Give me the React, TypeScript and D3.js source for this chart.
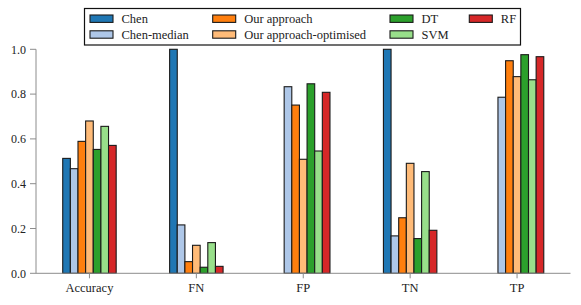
import React, { useRef, useEffect } from "react";
import { select, scaleLinear, range } from "d3";

const categories = ["Accuracy", "FN", "FP", "TN", "TP"];
const seriesNames = ["Chen", "Chen-median", "Our approach", "Our approach-optimised", "DT", "SVM", "RF"];
const colors = ["#1f77b4", "#aec7e8", "#ff7f0e", "#ffbb78", "#2ca02c", "#98df8a", "#d62728"];

// one array per series, in category order
const chen = [0.513, 1.0, 0.0, 1.0, 0.0];
const chenMedian = [0.467, 0.216, 0.833, 0.167, 0.786];
const ourApproach = [0.589, 0.052, 0.751, 0.248, 0.949];
const ourOptimised = [0.68, 0.125, 0.509, 0.491, 0.878];
const dt = [0.553, 0.027, 0.846, 0.155, 0.976];
const svm = [0.656, 0.137, 0.546, 0.454, 0.864];
const rf = [0.571, 0.031, 0.808, 0.192, 0.967];

const series = [chen, chenMedian, ourApproach, ourOptimised, dt, svm, rf];
const yTicks = [0, 0.2, 0.4, 0.6, 0.8, 1.0];

const FONT = "'Liberation Serif', serif";

function App() {
  const svgRef = useRef(null);

  useEffect(() => {
    const svg = select(svgRef.current);
    svg.selectAll("*").remove();

    const x = scaleLinear().domain([-0.5, categories.length - 0.5]).range([36, 570.5]);
    const y = scaleLinear().domain([0, 1]).range([273.3, 49.3]);
    const groupWidth = 0.5;
    const barW = groupWidth / series.length;

    // bars
    series.forEach((vals, s) => {
      svg.append("g")
        .selectAll("rect")
        .data(vals)
        .join("rect")
        .attr("x", (d, i) => x(i - groupWidth / 2 + s * barW))
        .attr("width", x(barW) - x(0))
        .attr("y", d => y(d))
        .attr("height", d => y(0) - y(d))
        .attr("fill", colors[s])
        .attr("stroke", "#1a1a1a")
        .attr("stroke-width", 1.1);
    });

    const axisColor = "#8c8c8c";

    // y axis
    const yAxis = svg.append("g");
    yAxis.append("line")
      .attr("x1", 36).attr("x2", 36)
      .attr("y1", y(0)).attr("y2", y(1))
      .attr("stroke", axisColor).attr("stroke-width", 1);
    yAxis.selectAll(".tick")
      .data(yTicks)
      .join("line")
      .attr("x1", 30).attr("x2", 36)
      .attr("y1", d => y(d)).attr("y2", d => y(d))
      .attr("stroke", axisColor);
    yAxis.selectAll("text")
      .data(yTicks)
      .join("text")
      .attr("x", 26)
      .attr("y", d => y(d))
      .attr("dy", "0.35em")
      .attr("text-anchor", "end")
      .style("font-family", FONT)
      .style("font-size", "12px")
      .attr("fill", "#222")
      .text(d => d.toFixed(1));

    // x axis
    const xAxis = svg.append("g");
    xAxis.append("line")
      .attr("x1", x(-0.5)).attr("x2", x(categories.length - 0.5))
      .attr("y1", y(0)).attr("y2", y(0))
      .attr("stroke", axisColor);
    xAxis.selectAll(".tick")
      .data(categories)
      .join("line")
      .attr("x1", (d, i) => x(i)).attr("x2", (d, i) => x(i))
      .attr("y1", y(0)).attr("y2", y(0) + 5)
      .attr("stroke", axisColor);
    xAxis.selectAll("text")
      .data(categories)
      .join("text")
      .attr("x", (d, i) => x(i))
      .attr("y", 292)
      .attr("text-anchor", "middle")
      .style("font-family", FONT)
      .style("font-size", "12.5px")
      .attr("fill", "#222")
      .text(d => d);

    // legend, 4 columns
    const legend = svg.append("g");
    legend.append("rect")
      .attr("x", 84.5).attr("y", 8.5)
      .attr("width", 436).attr("height", 36.5)
      .attr("fill", "white")
      .attr("stroke", "#111")
      .attr("stroke-width", 1.2);
    const colX = [90, 212.7, 390, 469.3];
    const rowY = [18.7, 34.5];
    const items = legend.selectAll(".item")
      .data(range(seriesNames.length))
      .join("g")
      .attr("transform", i => `translate(${colX[Math.floor(i / 2)]},${rowY[i % 2]})`);
    items.append("rect")
      .attr("x", 0).attr("y", -3.7)
      .attr("width", 23).attr("height", 7.4)
      .attr("fill", i => colors[i])
      .attr("stroke", "#1a1a1a")
      .attr("stroke-width", 1.1);
    items.append("text")
      .attr("x", 31.5)
      .attr("dy", "0.33em")
      .style("font-family", FONT)
      .style("font-size", "12.5px")
      .attr("fill", "#222")
      .text(i => seriesNames[i]);
  }, []);

  return (
    <div>
      <style>{`body{margin:0}`}</style>
      <svg ref={svgRef} width={581} height={305} style={{ display: "block" }}></svg>
    </div>
  );
}

export default App;
